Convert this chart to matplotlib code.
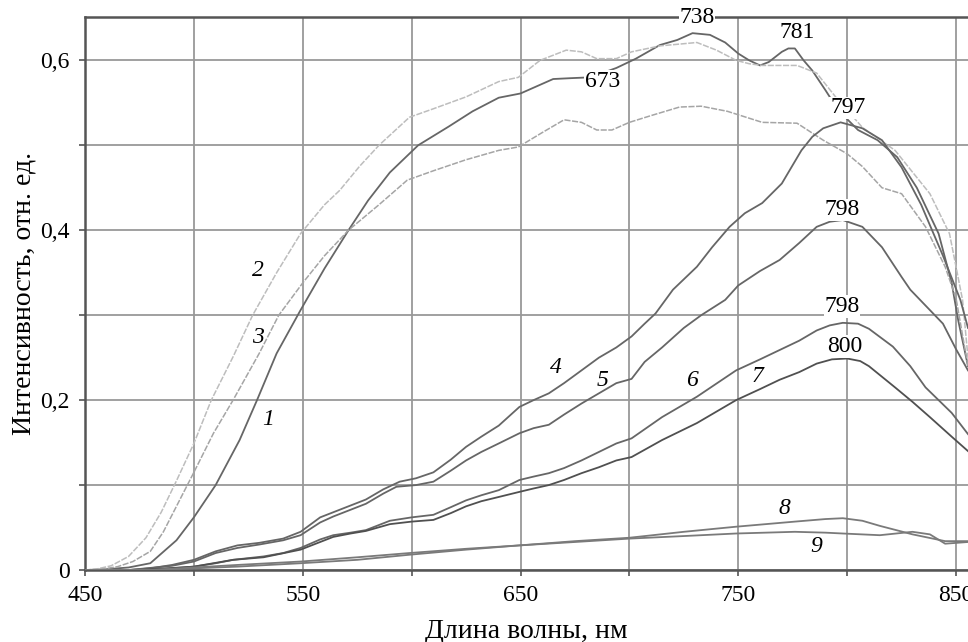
import matplotlib
matplotlib.use("Agg")
import matplotlib.pyplot as plt

# wavelength (nm) / intensity for each numbered curve
x1 = [450, 460, 470, 480, 492, 500, 510, 521, 529, 538, 549, 560, 571, 580, 590, 603, 617,
      628, 640, 650, 665, 673, 682, 694, 703, 714, 722, 729, 737, 744, 750, 755, 760, 764, 770,
      773, 776, 780, 784, 790, 796, 805, 814, 823, 832, 842, 848, 851, 855.5]
y1 = [0, 0.001, 0.003, 0.008, 0.035, 0.062, 0.1, 0.153, 0.2, 0.255, 0.306, 0.355, 0.4, 0.435,
      0.468, 0.5, 0.522, 0.54, 0.556, 0.561, 0.578, 0.579, 0.58, 0.591, 0.602, 0.618, 0.624,
      0.632, 0.63, 0.621, 0.608, 0.6, 0.594, 0.598, 0.61, 0.614, 0.614, 0.6, 0.588, 0.565,
      0.541, 0.518, 0.506, 0.486, 0.45, 0.396, 0.338, 0.294, 0.24]

x2 = [450, 455, 462, 470, 478, 485, 492, 500, 508, 518, 527, 538, 549, 560, 567, 576, 585,
      599, 610, 625, 640, 649, 659, 671, 678, 685, 694, 701, 714, 731, 740, 749, 755, 761,
      770, 777, 786, 795, 807, 822, 838, 847, 853, 855.5]
y2 = [0, 0.001, 0.005, 0.016, 0.038, 0.068, 0.105, 0.149, 0.2, 0.251, 0.3, 0.35, 0.396, 0.43,
      0.447, 0.475, 0.5, 0.533, 0.543, 0.557, 0.575, 0.58, 0.6, 0.612, 0.61, 0.602, 0.602,
      0.61, 0.617, 0.621, 0.612, 0.6, 0.596, 0.594, 0.594, 0.594, 0.585, 0.556, 0.521, 0.494,
      0.443, 0.396, 0.318, 0.25]

x3 = [450, 458, 465, 472, 480, 486, 492, 500, 509, 518, 530, 539, 550, 560, 571, 585, 598,
      610, 625, 640, 649, 660, 670, 678, 685, 692, 700, 710, 723, 733, 745, 761, 777, 789,
      800, 807, 816, 825, 836, 845, 850, 855.5]
y3 = [0, 0.001, 0.004, 0.01, 0.022, 0.045, 0.075, 0.115, 0.161, 0.2, 0.255, 0.3, 0.338, 0.37,
      0.4, 0.43, 0.459, 0.47, 0.483, 0.494, 0.498, 0.515, 0.53, 0.527, 0.518, 0.518, 0.527,
      0.535, 0.545, 0.546, 0.54, 0.527, 0.526, 0.506, 0.49, 0.475, 0.45, 0.443, 0.404, 0.357,
      0.32, 0.24]

x4 = [450, 470, 480, 490, 500, 510, 520, 530, 541, 549, 558, 564, 572, 579, 587, 594.5, 602,
      610, 618, 625, 632, 640, 649.5, 656, 663, 670, 678, 686, 694, 701, 707, 712, 720, 731,
      738, 746, 753, 761, 770, 779, 784, 789, 797, 807, 816, 825, 834, 844, 852, 855.5]
y4 = [0, 0, 0.002, 0.006, 0.012, 0.022, 0.029, 0.032, 0.037, 0.045, 0.062, 0.068, 0.076,
      0.083, 0.095, 0.104, 0.108, 0.115, 0.13, 0.145, 0.157, 0.17, 0.192, 0.2, 0.208, 0.22,
      0.235, 0.25, 0.262, 0.275, 0.29, 0.302, 0.33, 0.357, 0.38, 0.404, 0.42, 0.432, 0.455,
      0.494, 0.51, 0.52, 0.527, 0.52, 0.506, 0.474, 0.43, 0.37, 0.318, 0.285]

x5 = [450, 470, 490, 500, 510, 520, 530, 541, 549, 558, 564, 572, 579, 587, 593, 602, 610,
      618, 625, 632, 640, 649.5, 656, 663, 670, 678, 686, 694, 701, 707, 715, 725, 733, 744,
      750, 760, 769, 778, 786, 792, 798, 807, 816, 825, 829, 838, 844, 850, 855.5]
y5 = [0, 0, 0.005, 0.01, 0.02, 0.026, 0.03, 0.035, 0.041, 0.056, 0.063, 0.071, 0.078, 0.09,
      0.098, 0.1, 0.104, 0.117, 0.129, 0.139, 0.149, 0.161, 0.167, 0.171, 0.183, 0.196, 0.208,
      0.22, 0.225, 0.245, 0.262, 0.285, 0.3, 0.318, 0.335, 0.352, 0.365, 0.385, 0.404, 0.41,
      0.412, 0.404, 0.38, 0.345, 0.33, 0.306, 0.29, 0.26, 0.235]

x6 = [450, 475, 490, 500, 510, 518, 532, 541, 549, 558, 564, 572, 579, 590, 600, 610, 618,
      625, 632, 640, 649.5, 656, 663, 670, 678, 686, 694, 701, 715, 731, 749, 760, 769, 778,
      786, 792, 798, 805, 810, 821, 829, 836, 848, 855.5]
y6 = [0, 0, 0.002, 0.004, 0.008, 0.012, 0.016, 0.02, 0.026, 0.036, 0.041, 0.044, 0.047, 0.058,
      0.062, 0.065, 0.074, 0.082, 0.088, 0.094, 0.106, 0.11, 0.114, 0.12, 0.129, 0.139, 0.149,
      0.155, 0.18, 0.204, 0.235, 0.248, 0.259, 0.27, 0.282, 0.288, 0.291, 0.29, 0.284, 0.263,
      0.24, 0.215, 0.185, 0.16]

x7 = [450, 475, 500, 518, 532, 549, 558, 564, 572, 579, 590, 600, 610, 618, 625, 632, 640,
      649.5, 656, 663, 670, 678, 686, 694, 701, 715, 731, 749, 760, 769, 778, 786, 793, 800,
      806, 810, 822, 830, 838, 848, 855.5]
y7 = [0, 0, 0.004, 0.012, 0.015, 0.024, 0.033, 0.039, 0.043, 0.046, 0.054, 0.057, 0.059,
      0.067, 0.075, 0.081, 0.086, 0.092, 0.096, 0.1, 0.106, 0.114, 0.121, 0.129, 0.133, 0.153,
      0.173, 0.2, 0.213, 0.224, 0.233, 0.243, 0.248, 0.249, 0.246, 0.24, 0.215, 0.198, 0.18,
      0.157, 0.14]

x8 = [450, 480, 500, 520, 549, 575, 599, 625, 649.5, 675, 700, 725, 749, 776, 790, 798, 807,
      815, 830, 845, 855.5]
y8 = [0, 0, 0.003, 0.006, 0.01, 0.015, 0.02, 0.025, 0.029, 0.034, 0.038, 0.045, 0.051, 0.057,
      0.06, 0.061, 0.058, 0.052, 0.042, 0.034, 0.034]

x9 = [450, 480, 500, 520, 549, 575, 599, 625, 649.5, 675, 700, 725, 749, 776, 790, 798, 815,
      830, 838, 845, 855.5]
y9 = [0, 0, 0.002, 0.004, 0.008, 0.012, 0.018, 0.024, 0.029, 0.033, 0.037, 0.04, 0.043, 0.045,
      0.044, 0.043, 0.041, 0.045, 0.042, 0.031, 0.033]

peak_labels = ["738", "781", "673", "797", "798", "798", "800"]
peak_pos = [(731, 0.650), (777, 0.633), (687.5, 0.575), (800.3, 0.544),
            (797.6, 0.424), (797.6, 0.31), (799, 0.263)]
curve_labels = ["2", "3", "1", "4", "5", "6", "7", "8", "9"]
curve_pos = [(529.4, 0.353), (529.4, 0.274), (534, 0.177), (666.3, 0.239),
             (687.8, 0.223), (728.7, 0.223), (759, 0.228), (771.4, 0.073), (786, 0.028)]

plt.rcParams['font.family'] = ['Liberation Serif', 'DejaVu Serif']

fig = plt.figure(figsize=(9.68, 6.42), dpi=100)
ax = fig.add_axes([0.0878, 0.1121, 0.9122, 0.8614])

dark = '#666666'
ax.plot(x1, y1, color=dark, lw=1.3, zorder=3)
ax.plot(x2, y2, color='#bdbdbd', lw=1.1, ls=(0, (4, 1)), zorder=3)
ax.plot(x3, y3, color='#a5a5a5', lw=1.1, ls=(0, (4, 1)), zorder=3)
ax.plot(x4, y4, color=dark, lw=1.3, zorder=3)
ax.plot(x5, y5, color=dark, lw=1.3, zorder=3)
ax.plot(x6, y6, color=dark, lw=1.3, zorder=3)
ax.plot(x7, y7, color='#505050', lw=1.3, zorder=3)
ax.plot(x8, y8, color='#7a7a7a', lw=1.3, zorder=3)
ax.plot(x9, y9, color='#7a7a7a', lw=1.3, zorder=3)

ax.set_xlim(450, 855.5)
ax.set_ylim(0, 0.651)

xt = [450, 500, 550, 600, 650, 700, 750, 800, 850]
ax.set_xticks(xt)
ax.set_xticklabels([str(v) if v % 100 == 50 else '' for v in xt])
yt = [0, 0.1, 0.2, 0.3, 0.4, 0.5, 0.6]
ax.set_yticks(yt)
ax.set_yticklabels(['0', '', '0,2', '', '0,4', '', '0,6'])
ax.tick_params(axis='both', direction='out', length=4, width=1.2, color='#555555',
               labelsize=17, pad=7)
ax.grid(True, color='#999999', lw=1.3, zorder=1)

for side in ['left', 'top', 'bottom']:
    ax.spines[side].set_color('#555555')
    ax.spines[side].set_linewidth(1.8)
ax.spines['right'].set_visible(False)

ax.set_xlabel('Длина волны, нм', fontsize=20, labelpad=9)
ax.set_ylabel('Интенсивность, отн. ед.', fontsize=20, labelpad=3)

for t, (px, py) in zip(peak_labels, peak_pos):
    ax.text(px, py, t, fontsize=17, ha='center', va='center', zorder=5,
            bbox=dict(facecolor='white', edgecolor='none', pad=0.5), clip_on=False)
for t, (px, py) in zip(curve_labels, curve_pos):
    ax.text(px, py, t, fontsize=17, style='italic', ha='center', va='center', zorder=5)

fig.savefig('out.png', dpi=100)
